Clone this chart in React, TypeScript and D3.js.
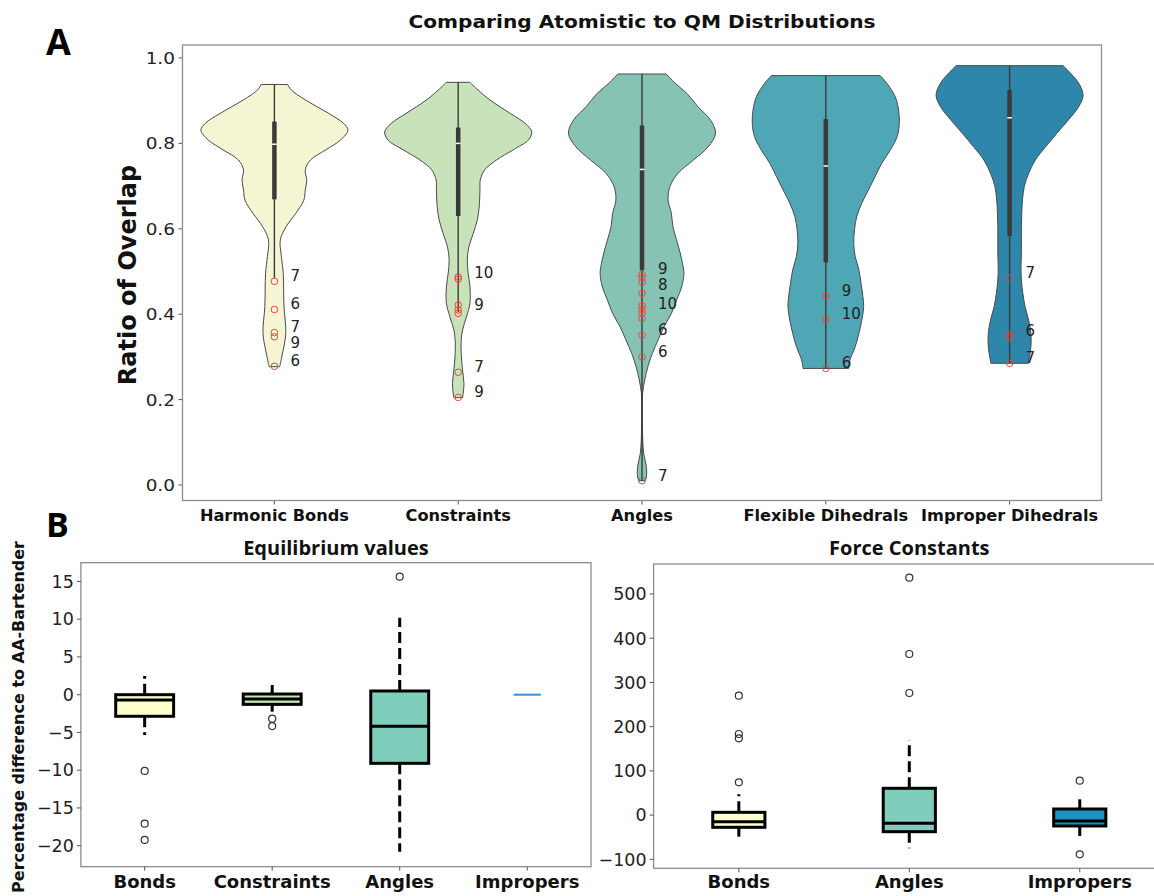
import React from "react";
import * as d3 from "d3";

// ---------- Panel A : violins ----------
const violinCats = ["Harmonic Bonds", "Constraints", "Angles", "Flexible Dihedrals", "Improper Dihedrals"];
const violinColors = ["#f5f5d3", "#c8e2b9", "#86c3b4", "#4fa6b5", "#2e87ab"];

// [ratio of overlap, relative density]
const harmonicProfile: [number, number][] = [
  [0.938, 0.18], [0.925, 0.23], [0.902, 0.42], [0.87, 0.74], [0.847, 0.94], [0.831, 1.0],
  [0.808, 0.9], [0.785, 0.7], [0.761, 0.49], [0.738, 0.42], [0.714, 0.44], [0.691, 0.42],
  [0.667, 0.4], [0.636, 0.29], [0.605, 0.16], [0.574, 0.08], [0.535, 0.095], [0.496, 0.12],
  [0.418, 0.13], [0.355, 0.155], [0.3, 0.1], [0.277, 0.072],
];
const constraintsProfile: [number, number][] = [
  [0.943, 0.16], [0.925, 0.27], [0.902, 0.43], [0.87, 0.71], [0.847, 0.91], [0.827, 1.0],
  [0.808, 0.955], [0.785, 0.75], [0.761, 0.52], [0.738, 0.36], [0.714, 0.3], [0.691, 0.296],
  [0.652, 0.286], [0.621, 0.26], [0.589, 0.205], [0.558, 0.146], [0.527, 0.123], [0.496, 0.136],
  [0.464, 0.16], [0.425, 0.16], [0.394, 0.113], [0.363, 0.059], [0.34, 0.041], [0.308, 0.041],
  [0.269, 0.059], [0.238, 0.078], [0.215, 0.068], [0.2045, 0.059],
];
const anglesProfile: [number, number][] = [
  [0.9625, 0.33], [0.941, 0.45], [0.917, 0.61], [0.886, 0.76], [0.855, 0.93], [0.824, 1.0],
  [0.792, 0.9], [0.761, 0.7], [0.73, 0.49], [0.699, 0.38], [0.667, 0.355], [0.636, 0.4],
  [0.605, 0.42], [0.574, 0.47], [0.543, 0.52], [0.511, 0.56], [0.496, 0.57], [0.464, 0.54],
  [0.433, 0.47], [0.402, 0.4], [0.371, 0.3], [0.34, 0.22], [0.308, 0.14], [0.277, 0.08],
  [0.246, 0.037], [0.215, 0.008], [0.183, 0.005], [0.144, 0.005], [0.105, 0.01], [0.074, 0.023],
  [0.043, 0.06], [0.019, 0.06], [0.01, 0.045],
];
const flexibleProfile: [number, number][] = [
  [0.9587, 0.74], [0.941, 0.83], [0.909, 0.945], [0.878, 0.99], [0.847, 1.0], [0.816, 0.97],
  [0.785, 0.88], [0.753, 0.76], [0.722, 0.67], [0.691, 0.58], [0.66, 0.49], [0.628, 0.42],
  [0.597, 0.39], [0.566, 0.38], [0.535, 0.4], [0.504, 0.45], [0.472, 0.48], [0.441, 0.505],
  [0.418, 0.515], [0.386, 0.49], [0.355, 0.45], [0.324, 0.4], [0.293, 0.33], [0.273, 0.31],
];
const improperProfile: [number, number][] = [
  [0.982, 0.73], [0.964, 0.83], [0.941, 0.94], [0.913, 1.0], [0.886, 0.94], [0.855, 0.8],
  [0.824, 0.645], [0.792, 0.49], [0.761, 0.35], [0.73, 0.26], [0.699, 0.2], [0.667, 0.175],
  [0.636, 0.165], [0.605, 0.16], [0.574, 0.16], [0.543, 0.16], [0.511, 0.155], [0.48, 0.16],
  [0.449, 0.18], [0.418, 0.21], [0.386, 0.26], [0.355, 0.29], [0.324, 0.29], [0.3, 0.27],
  [0.285, 0.255],
];
const violinProfiles = [harmonicProfile, constraintsProfile, anglesProfile, flexibleProfile, improperProfile];

const innerQ1 = [0.669, 0.63, 0.503, 0.521, 0.583];
const innerMedian = [0.798, 0.8, 0.739, 0.747, 0.86];
const innerQ3 = [0.851, 0.837, 0.842, 0.857, 0.925];
const innerLow = [0.484, 0.405, 0.01, 0.273, 0.285];
const innerHigh = [0.938, 0.943, 0.9625, 0.9587, 0.982];

const violinOutliers = [
  [0.477, 0.411, 0.357, 0.347, 0.278],
  [0.487, 0.482, 0.4215, 0.41, 0.402, 0.264, 0.205],
  [0.493, 0.486, 0.475, 0.449, 0.42, 0.411, 0.402, 0.39, 0.351, 0.3, 0.01],
  [0.443, 0.388, 0.273],
  [0.484, 0.351, 0.345, 0.285],
];
const outlierLabelValues = [
  [0.477, 0.411, 0.357, 0.347, 0.278],
  [0.485, 0.41, 0.264, 0.205],
  [0.493, 0.475, 0.411, 0.351, 0.3, 0.01],
  [0.443, 0.388, 0.273],
  [0.484, 0.348, 0.285],
];
const outlierLabelTexts = [
  ["7", "6", "7", "9", "6"],
  ["10", "9", "7", "9"],
  ["9", "8", "10", "6", "6", "7"],
  ["9", "10", "6"],
  ["7", "6", "7"],
];
const ratioTicks = [0, 0.2, 0.4, 0.6, 0.8, 1.0];

// ---------- Panel B : box plots ----------
const eqCats = ["Bonds", "Constraints", "Angles", "Impropers"];
const eqColors = ["#ffffcc", "#c7e9b4", "#7fcdbb", "#41b6c4"];
// [whisker low, q1, median, q3, whisker high]
const eqStats = [
  [-5.34, -2.86, -0.7, 0.0, 2.48],
  [-2.25, -1.28, -0.57, 0.09, 1.28],
  [-20.79, -9.09, -4.19, 0.49, 10.2],
  [0, 0, 0, 0, 0],
];
const eqFliers = [[-10.1, -17.08, -19.24], [-3.18, -4.15], [15.63], []];
const eqTicks = [-20, -15, -10, -5, 0, 5, 10, 15];

const fcCats = ["Bonds", "Angles", "Impropers"];
const fcColors = ["#ffffcc", "#7fcdbb", "#1d91c0"];
const fcStats = [
  [-48.8, -27.6, -14.9, 6.3, 47],
  [-75.2, -37.5, -18.6, 60.6, 169.8],
  [-47.3, -24.6, -13.3, 13.8, 35.7],
];
const fcFliers = [[270, 183.4, 173.7, 74.2], [536.9, 364.3, 276.1], [77.8, -88.7]];
const fcTicks = [-100, 0, 100, 200, 300, 400, 500];

const FRAME = "#8c8c8c";
const TXT = "#222";
const MPL = "DejaVu Sans, Verdana, sans-serif";
const PPT = "'Open Sans', Lato, sans-serif";

const fmtMinus = (v: number) => (v < 0 ? "\u2212" + Math.abs(v) : String(v));

function BoxPanel(props: {
  cats: string[]; colors: string[]; stats: number[][]; fliers: number[][]; ticks: number[];
  xDomain: [number, number]; xRange: [number, number]; yDomain: [number, number]; yRange: [number, number];
  boxW: number; title: string;
}) {
  const { cats, colors, stats, fliers, ticks, xDomain, xRange, yDomain, yRange, boxW, title } = props;
  const x = d3.scaleLinear().domain(xDomain).range(xRange);
  const y = d3.scaleLinear().domain(yDomain).range(yRange);
  const step = x(2) - x(1);
  const hw = (boxW * step) / 2;
  return (
    <g>
      <text x={(xRange[0] + xRange[1]) / 2} y={555} textAnchor="middle" fontFamily={PPT} fontWeight={700} fontSize={20} fill="#111">{title}</text>
      <rect x={xRange[0]} y={yRange[1]} width={xRange[1] - xRange[0]} height={yRange[0] - yRange[1]} fill="none" stroke={FRAME} strokeWidth={1.3} />
      {ticks.map((t) => (
        <g key={t}>
          <line x1={xRange[0] - 4} x2={xRange[0]} y1={y(t)} y2={y(t)} stroke="#555" strokeWidth={1} />
          <text x={xRange[0] - 7} y={y(t)} dy="0.36em" textAnchor="end" fontFamily={MPL} fontSize={17.5} fill={TXT}>{fmtMinus(t)}</text>
        </g>
      ))}
      {cats.map((c, i) => {
        const cx = x(i + 1);
        const [lo, q1, med, q3, hi] = stats[i];
        const flat = q1 === q3 && lo === hi;
        return (
          <g key={c}>
            <line x1={cx} x2={cx} y1={yRange[0]} y2={yRange[0] + 4} stroke="#555" strokeWidth={1} />
            <text x={cx} y={888} textAnchor="middle" fontFamily={MPL} fontWeight={700} fontSize={18} fill="#111">{c}</text>
            {flat ? (
              <line x1={cx - hw * 0.47} x2={cx + hw * 0.47} y1={y(med)} y2={y(med)} stroke="#3b8ed8" strokeWidth={2} />
            ) : (
              <g>
                <line x1={cx} x2={cx} y1={y(q3)} y2={y(hi)} stroke="#000" strokeWidth={3} strokeDasharray="11,5" />
                <line x1={cx} x2={cx} y1={y(q1)} y2={y(lo)} stroke="#000" strokeWidth={3} strokeDasharray="11,5" />
                <rect x={cx - hw} y={y(q3)} width={2 * hw} height={y(q1) - y(q3)} fill={colors[i]} stroke="#000" strokeWidth={3} />
                <line x1={cx - hw} x2={cx + hw} y1={y(med)} y2={y(med)} stroke="#000" strokeWidth={3} />
              </g>
            )}
            {fliers[i].map((f, j) => (
              <circle key={j} cx={cx} cy={y(f)} r={3.5} fill="none" stroke="#333" strokeWidth={1.2} />
            ))}
          </g>
        );
      })}
    </g>
  );
}

export default function App() {
  // panel A scales
  const xA = d3.scaleBand<string>().domain(violinCats).range([182.5, 1101.5]).padding(0);
  const yA = d3.scaleLinear().domain([-0.0363, 1.0304]).range([500.5, 45]);
  const half = xA.bandwidth() * 0.4;
  const sx = 1.12;

  return (
    <div style={{ position: "absolute", left: 0, top: 0 }}>
      <svg width={1154} height={896} style={{ display: "block", background: "#fff" }}>
        {/* panel letters */}
        <text x={46} y={55} fontFamily={PPT} fontWeight={700} fontSize={36} fill="#000">A</text>
        <text x={46} y={537} fontFamily={PPT} fontWeight={700} fontSize={34} fill="#000">B</text>

        {/* ===== Panel A ===== */}
        <text transform={`translate(642,28) scale(${sx},1)`} textAnchor="middle" fontFamily={MPL} fontWeight={700} fontSize={18} fill="#111">
          Comparing Atomistic to QM Distributions
        </text>
        <text transform={`translate(136,275) rotate(-90)`} textAnchor="middle" fontFamily={MPL} fontWeight={700} fontSize={24} fill="#111">
          Ratio of Overlap
        </text>
        {ratioTicks.map((t) => (
          <g key={t}>
            <line x1={178.5} x2={182.5} y1={yA(t)} y2={yA(t)} stroke="#555" strokeWidth={1} />
            <text transform={`translate(175,${yA(t)}) scale(${sx},1)`} dy="0.36em" textAnchor="end" fontFamily={MPL} fontSize={16.5} fill={TXT}>
              {t.toFixed(1)}
            </text>
          </g>
        ))}
        {violinCats.map((c, i) => {
          const cx = (xA(c) as number) + xA.bandwidth() / 2;
          const area = d3
            .area<[number, number]>()
            .y((d) => yA(d[0]))
            .x0((d) => cx - d[1] * half)
            .x1((d) => cx + d[1] * half)
            .curve(d3.curveCatmullRom.alpha(0.5));
          // label placement, pushed apart so they don't collide
          const lv = outlierLabelValues[i];
          const pos: number[] = [];
          lv.forEach((v, k) => {
            let p = yA(v) - 5.5;
            if (k > 0 && p - pos[k - 1] < 16) p = pos[k - 1] + 16;
            pos.push(p);
          });
          return (
            <g key={c}>
              <path d={area(violinProfiles[i]) || ""} fill={violinColors[i]} stroke="#4a4a4a" strokeWidth={1} />
              <line x1={cx} x2={cx} y1={yA(innerLow[i])} y2={yA(innerHigh[i])} stroke="#3a3a3a" strokeWidth={1.4} />
              <line x1={cx} x2={cx} y1={yA(innerQ1[i])} y2={yA(innerQ3[i])} stroke="#3a3a3a" strokeWidth={4.5} />
              <rect x={cx - 2.25} y={yA(innerMedian[i]) - 0.75} width={4.5} height={1.5} fill="#fff" />
              {violinOutliers[i].map((v, j) => (
                <circle key={j} cx={cx} cy={yA(v)} r={3.3} fill="none" stroke="#e8493d" strokeWidth={1} />
              ))}
              {outlierLabelTexts[i].map((t, k) => (
                <text key={k} x={cx + 16} y={pos[k]} dy="0.36em" fontFamily={MPL} fontSize={15} fill={TXT}>{t}</text>
              ))}
              <line x1={cx} x2={cx} y1={500.5} y2={504.5} stroke="#555" strokeWidth={1} />
              <text transform={`translate(${cx},521) scale(1.08,1)`} textAnchor="middle" fontFamily={MPL} fontWeight={700} fontSize={15} fill="#111">
                {c}
              </text>
            </g>
          );
        })}
        <rect x={182.5} y={45} width={919} height={455.5} fill="none" stroke={FRAME} strokeWidth={1.3} />

        {/* ===== Panel B ===== */}
        <text transform="translate(24,541) rotate(-90)" textAnchor="end" fontFamily={MPL} fontWeight={700} fontSize={16} fill="#111">
          Percentage difference to AA-Bartender
        </text>
        <BoxPanel
          cats={eqCats} colors={eqColors} stats={eqStats} fliers={eqFliers} ticks={eqTicks}
          xDomain={[0.5, 4.5]} xRange={[80.9, 591]} yDomain={[-22.78, 17.48]} yRange={[866.7, 562.7]}
          boxW={0.454} title="Equilibrium values"
        />
        <BoxPanel
          cats={fcCats} colors={fcColors} stats={fcStats} fliers={fcFliers} ticks={fcTicks}
          xDomain={[0.5, 3.5]} xRange={[653.6, 1165]} yDomain={[-120.3, 567.8]} yRange={[868.3, 564]}
          boxW={0.306} title="Force Constants"
        />
      </svg>
    </div>
  );
}
